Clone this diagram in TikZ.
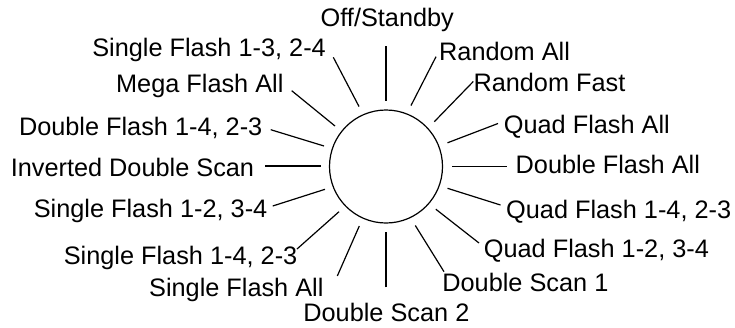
\documentclass[tikz,border=0pt]{standalone}
\usepackage{fontspec}
\setmainfont{Liberation Sans}
\begin{document}
\begin{tikzpicture}[x=1pt,y=-1pt,
  lbl/.style={inner sep=0pt,font=\fontsize{25.3}{30}\selectfont},
  ray/.style={line width=1.2pt,line cap=butt}]
\useasboundingbox (0,0) rectangle (735,327);
\node[draw,circle,line width=1.2pt,minimum size=113pt,inner sep=0pt] (c) at (386,166.5) {};
% labels
\node[lbl,anchor=base] (off) at (387.3,26.7) {Off/Standby};
\node[lbl,anchor=base west] (ra) at (439,60) {Random All};
\node[lbl,anchor=base west] (rf) at (473.3,91.5) {Random Fast};
\node[lbl,anchor=base west] (qfa) at (503.7,133) {Quad Flash All};
\node[lbl,anchor=base west] (dfa) at (515.5,173) {Double Flash All};
\node[lbl,anchor=base west] (qf14) at (506,218.3) {Quad Flash 1-4, 2-3};
\node[lbl,anchor=base west] (qf12) at (483.7,257.3) {Quad Flash 1-2, 3-4};
\node[lbl,anchor=base west] (ds1) at (442.2,291.7) {Double Scan 1};
\node[lbl,anchor=base west] (ds2) at (303.2,321.7) {Double Scan 2};
\node[lbl,anchor=base east] (sfa) at (323.7,296) {Single Flash All};
\node[lbl,anchor=base east] (sf14) at (297.5,264) {Single Flash 1-4, 2-3};
\node[lbl,anchor=base east] (sf12) at (267.5,217.3) {Single Flash 1-2, 3-4};
\node[lbl,anchor=base east] (ids) at (254.3,176.7) {Inverted Double Scan};
\node[lbl,anchor=base east] (df14) at (262.5,135) {Double Flash 1-4, 2-3};
\node[lbl,anchor=base east] (mfa) at (283.7,92.7) {Mega Flash All};
\node[lbl,anchor=base east] (sf13) at (326,56) {Single Flash 1-3, 2-4};
% ray end points (outer o, inner i)
\coordinate (o1) at (386,46);      \coordinate (i1) at (386,100.7);
\coordinate (o2) at (436,56.7);    \coordinate (i2) at (411,105.5);
\coordinate (o3) at (473.3,81.5);  \coordinate (i3) at (434.3,121.7);
\coordinate (o4) at (498,123.5);   \coordinate (i4) at (447.5,142.8);
\coordinate (o5) at (506.7,166.7); \coordinate (i5) at (451.7,166.7);
\coordinate (o6) at (500.5,205);   \coordinate (i6) at (447.5,188.3);
\coordinate (o7) at (479,243);     \coordinate (i7) at (435.8,209.2);
\coordinate (o8) at (444,271.7);   \coordinate (i8) at (415.3,225.5);
\coordinate (o9) at (386,287.3);   \coordinate (i9) at (386,231.7);
\coordinate (o10) at (337.3,276);  \coordinate (i10) at (359.3,226);
\coordinate (o11) at (297,249);    \coordinate (i11) at (339,211.7);
\coordinate (o12) at (272.7,206);  \coordinate (i12) at (325,189.3);
\coordinate (o13) at (265,166);    \coordinate (i13) at (321,166);
\coordinate (o14) at (270.7,129.7);\coordinate (i14) at (324,146);
\coordinate (o15) at (291.7,90.7); \coordinate (i15) at (335,126);
\coordinate (o16) at (333.3,57.3); \coordinate (i16) at (359,106.5);
\foreach \k in {1,...,16} { \draw[ray] (o\k) -- (i\k); }
\end{tikzpicture}
\end{document}
